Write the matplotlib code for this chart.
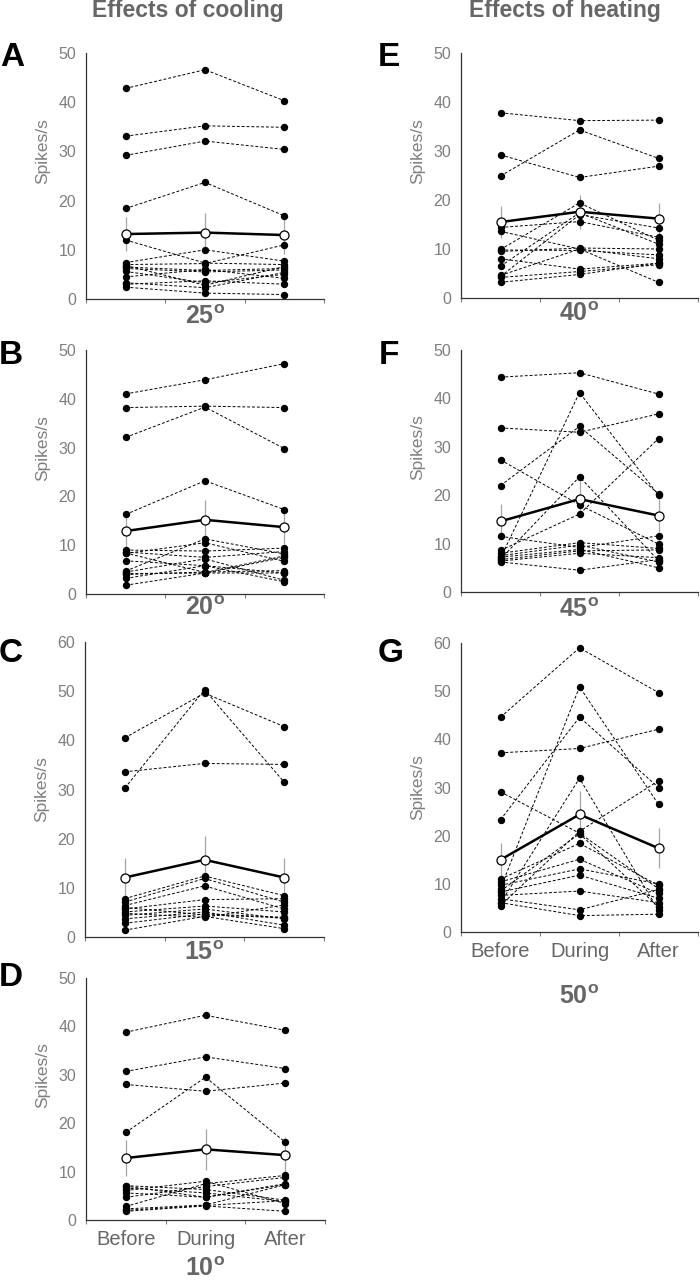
import matplotlib
matplotlib.use("Agg")
from matplotlib import pyplot as plt
import numpy as np

plt.rcParams["font.family"] = ["Liberation Sans", "DejaVu Sans"]
plt.rcParams["mathtext.fontset"] = "custom"
plt.rcParams["mathtext.bf"] = "Liberation Sans:bold"
plt.rcParams["mathtext.rm"] = "Liberation Sans"

conditions = ["Before", "During", "After"]

# --- cooling ---
# A, 25 deg: each row is one cell, before / during / after
cells_25 = [
    [42.8, 46.6, 40.3], [33.1, 35.2, 34.9], [29.2, 32.1, 30.4], [18.4, 23.7, 16.9],
    [12.0, 7.3, 7.0], [7.4, 10.0, 7.7], [7.0, 7.2, 11.0], [6.8, 2.8, 6.6],
    [6.5, 5.8, 6.2], [6.2, 5.5, 5.9], [5.6, 3.3, 5.0], [4.5, 6.0, 4.2],
    [3.3, 2.3, 5.4], [3.0, 3.7, 3.0], [2.4, 1.2, 0.9],
]
mean_25 = [13.2, 13.5, 13.0]
err_25 = [3.4, 4.0, 3.8]

# B, 20 deg
cells_20 = [
    [41.0, 43.9, 47.2], [38.2, 38.5, 38.2], [32.1, 38.3, 29.8], [16.3, 23.2, 17.3],
    [9.0, 8.8, 9.4], [8.6, 7.5, 8.7], [8.3, 10.5, 6.7], [6.8, 5.8, 4.3],
    [4.7, 11.3, 8.2], [4.5, 7.2, 2.8], [4.2, 4.3, 7.5], [4.0, 4.5, 4.8],
    [3.2, 5.8, 2.5], [1.8, 4.3, 4.3], [8.4, 4.4, 7.8],
]
mean_20 = [12.9, 15.2, 13.7]
err_20 = [3.2, 4.0, 3.5]

# C, 15 deg
cells_15 = [
    [40.5, 49.6, 42.8], [33.6, 35.3, 35.1], [30.3, 50.3, 31.5],
    [7.8, 12.4, 8.4], [7.1, 11.9, 7.1], [6.4, 10.4, 5.7], [5.7, 7.6, 7.8],
    [5.1, 6.3, 5.1], [4.4, 5.7, 3.7], [3.7, 5.1, 2.4], [2.8, 4.7, 4.0],
    [1.4, 4.2, 1.7], [6.0, 4.5, 3.9], [4.8, 4.0, 6.5],
]
mean_15 = [12.1, 15.7, 12.1]
err_15 = [3.9, 4.8, 4.0]

# D, 10 deg
cells_10 = [
    [38.8, 42.3, 39.2], [30.7, 33.7, 31.3], [28.0, 26.6, 28.3], [18.1, 29.5, 16.1],
    [7.1, 6.3, 4.1], [6.6, 5.6, 3.8], [6.1, 8.0, 3.4], [5.6, 4.7, 7.3],
    [4.7, 6.9, 8.8], [2.8, 7.5, 9.2], [2.3, 3.1, 7.3], [1.8, 2.9, 1.8],
    [7.0, 4.7, 7.5], [2.0, 3.0, 4.0],
]
mean_10 = [12.8, 14.6, 13.4]
err_10 = [3.8, 4.2, 3.7]

# --- heating ---
# E, 40 deg
cells_40 = [
    [37.8, 36.2, 36.3], [29.2, 24.6, 26.9], [24.9, 34.3, 28.5],
    [14.4, 15.6, 12.4], [13.6, 10.0, 3.2], [9.9, 19.4, 11.8], [9.5, 10.2, 10.0],
    [9.8, 9.7, 8.8], [8.0, 5.9, 7.1], [6.5, 17.4, 11.0], [4.6, 10.0, 8.0],
    [4.2, 5.4, 6.8], [3.2, 4.8, 7.1], [4.4, 17.0, 14.3],
]
mean_40 = [15.5, 17.6, 16.2]
err_40 = [3.3, 3.5, 3.2]

# F, 45 deg
cells_45 = [
    [44.4, 45.3, 40.9], [33.9, 33.0, 36.8], [27.3, 18.0, 9.9], [22.0, 34.2, 20.3],
    [7.0, 41.2, 20.0], [6.8, 23.8, 6.5], [8.6, 16.1, 31.7], [11.5, 9.2, 11.6],
    [8.0, 10.2, 9.0], [7.5, 9.7, 6.2], [6.7, 8.5, 8.7], [6.4, 8.0, 7.1],
    [6.2, 4.5, 6.7], [7.2, 8.8, 5.0],
]
mean_45 = [14.6, 19.2, 15.8]
err_45 = [3.5, 3.8, 3.5]

# G, 50 deg
cells_50 = [
    [44.6, 59.0, 49.7], [37.2, 38.1, 42.1], [29.1, 20.5, 9.0], [23.3, 44.6, 30.0],
    [9.0, 50.9, 26.5], [6.0, 31.9, 4.5], [5.5, 20.9, 31.4], [11.0, 18.4, 9.7],
    [10.4, 15.1, 8.0], [9.7, 13.1, 10.0], [8.3, 11.8, 7.0], [7.6, 8.5, 6.1],
    [6.9, 4.6, 8.8], [6.1, 3.4, 3.7], [8.5, 20.4, 5.2],
]
mean_50 = [15.0, 24.4, 17.4]
err_50 = [3.5, 4.8, 4.2]

W, H = 700, 1281
GRAY = "#7f7f7f"
DARK = "#666666"


def rect(l, r, t, b):
    return [l / W, 1 - b / H, (r - l) / W, (b - t) / H]


def panel(fig, box, cells, mean, err, ymax, letter, temp, letter_xy, temp_y, show_x):
    ax = fig.add_axes(rect(*box))
    x = np.arange(3)
    for c in cells:
        ax.plot(x, c, ls=(0, (3, 2)), color="k", lw=0.7, marker="o", ms=4.3,
                mfc="k", mec="k", zorder=2, clip_on=False)
    ax.errorbar(x, mean, yerr=err, fmt="none", ecolor="#a6a6a6", elinewidth=0.9,
                capsize=0, zorder=1)
    ax.plot(x, mean, color="k", lw=1.8, marker="o", ms=6.5, mfc="white",
            mec="k", mew=0.9, zorder=4, clip_on=False)
    ax.set_xlim(-0.5, 2.5)
    ax.set_ylim(0, ymax)
    ax.set_yticks(np.arange(0, ymax + 1, 10))
    ax.tick_params(axis="y", length=0, pad=7, labelsize=11.5, labelcolor=GRAY)
    ax.set_xticks([-0.5, 0.5, 1.5, 2.5])
    ax.set_xticklabels([])
    ax.set_xticks(x, minor=True)
    ax.tick_params(axis="x", which="major", length=3, color=GRAY)
    ax.tick_params(axis="x", which="minor", length=0, pad=7, labelsize=14.5,
                   labelcolor=DARK)
    if show_x:
        ax.set_xticklabels(conditions, minor=True)
    for s in ["top", "right"]:
        ax.spines[s].set_visible(False)
    for s in ["left", "bottom"]:
        ax.spines[s].set_color("#333333")
        ax.spines[s].set_linewidth(0.9)
    ax.set_ylabel("Spikes/s", fontsize=12.5, color=GRAY)
    # the label sits around 30 spikes/s in every panel
    ax.yaxis.set_label_coords(-0.15, 30 / ymax)
    cx = (box[0] + box[1]) / 2
    fig.text(cx / W, 1 - temp_y / H, temp + r"$^{\bf o}$", fontsize=18,
             fontweight="bold", color=DARK, ha="center", va="center")
    fig.text(letter_xy[0] / W, 1 - letter_xy[1] / H, letter, fontsize=24,
             fontweight="bold", color="k", ha="center", va="center")
    return ax


fig = plt.figure(figsize=(W / 100, H / 100), dpi=100)

panel(fig, (86, 324, 53, 299), cells_25, mean_25, err_25, 50, "A", "25", (12, 58), 317, False)
panel(fig, (86, 324, 350, 594), cells_20, mean_20, err_20, 50, "B", "20", (11, 355), 608, False)
panel(fig, (85, 324, 642, 937), cells_15, mean_15, err_15, 60, "C", "15", (11, 653), 953, False)
panel(fig, (86, 325, 978, 1220), cells_10, mean_10, err_10, 50, "D", "10", (11, 977), 1269, True)
panel(fig, (461, 698, 53, 298), cells_40, mean_40, err_40, 50, "E", "40", (389, 58), 314, False)
panel(fig, (461, 698, 350, 592), cells_45, mean_45, err_45, 50, "F", "45", (389, 355), 610, False)
panel(fig, (461, 698, 643, 932), cells_50, mean_50, err_50, 60, "G", "50", (391, 653), 997, True)

fig.text(188 / W, 1 - 11 / H, "Effects of cooling", fontsize=16.5, fontweight="bold",
         color=DARK, ha="center", va="center")
fig.text(565 / W, 1 - 11 / H, "Effects of heating", fontsize=16.5, fontweight="bold",
         color=DARK, ha="center", va="center")

fig.savefig("out.png", dpi=100)
